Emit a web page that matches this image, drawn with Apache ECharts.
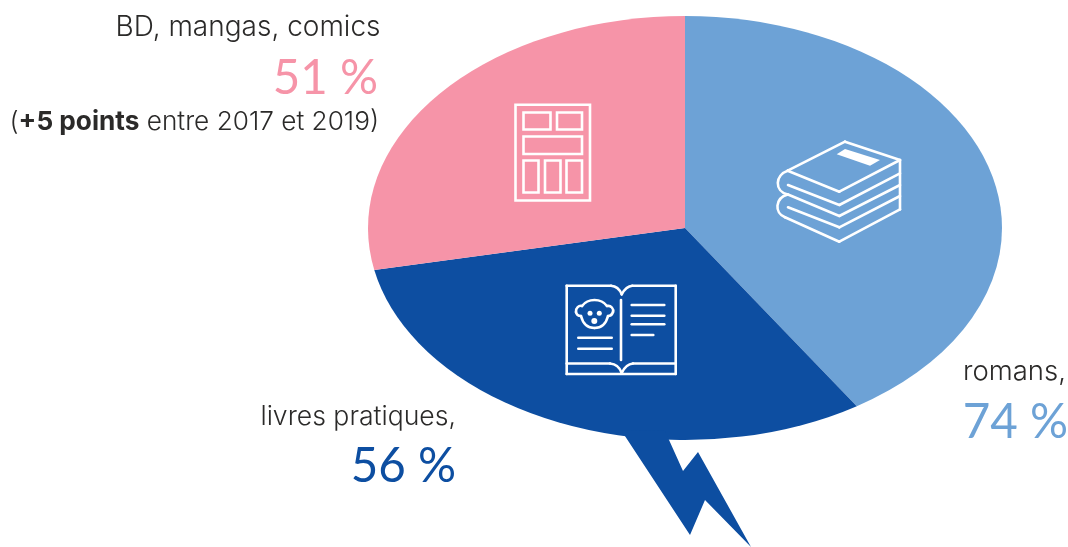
<!DOCTYPE html>
<html><head><meta charset="utf-8">
<style>html,body{margin:0;padding:0;background:#fff}#c{width:1068px;height:547px}</style>
<script src="https://cdn.jsdelivr.net/npm/echarts@6/dist/echarts.min.js"></script>
</head><body><div id="c"></div>
<script>
const categories = ['romans,', 'livres pratiques,', 'BD, mangas, comics'];
const values = [74, 56, 51];
const colors = ['#6DA2D6', '#0D4EA1', '#F694A8'];
const valueLabels = ['74 %', '56 %', '51 %'];
const FONT = 'Inter, Lato, sans-serif';
const NUMFONT = 'Lato, Inter, sans-serif';
const INK = '#2b2a29';
const total = values.reduce((a, b) => a + b, 0);

const chart = echarts.init(document.getElementById('c'), null, {renderer: 'canvas'});
const CX = 685, CY = 228, RX = 317, RY = 212;

function renderItem(params, api) {
  let before = 0;
  for (let i = 0; i < params.dataIndex; i++) before += values[i];
  const v = api.value(0);
  const a0 = -Math.PI / 2 + before / total * 2 * Math.PI;
  const a1 = a0 + v / total * 2 * Math.PI;
  return {
    type: 'sector', x: CX, y: CY, scaleX: 1, scaleY: RY / RX,
    shape: {cx: 0, cy: 0, r0: 0, r: RX, startAngle: a0, endAngle: a1, clockwise: true},
    style: {fill: colors[params.dataIndex]}
  };
}

const Z = 20;
const W = {stroke: '#fff', fill: null, lineWidth: 2.6, lineJoin: 'miter', lineCap: 'round'};
const rect = (x1, y1, x2, y2) => ({type: 'rect', z: Z, shape: {x: x1, y: y1, width: x2 - x1, height: y2 - y1}, style: W, silent: true});
const line = (x1, y1, x2, y2) => ({type: 'line', z: Z, shape: {x1, y1, x2, y2}, style: W, silent: true});
const dot = (cx, cy, r) => ({type: 'circle', z: Z, shape: {cx, cy, r}, style: {fill: '#fff'}, silent: true});
const poly = (pts, fill) => ({type: 'polygon', z: Z, shape: {points: pts}, style: {fill}, silent: true});
// Expands a small "M L C Z" outline into the library's own line and bezierCurve elements.
function path(d) {
  const t = d.match(/[MLCZ]|[\d.]+/g), out = [];
  let i = 0, x = 0, y = 0, sx = 0, sy = 0;
  const n = () => parseFloat(t[i++]);
  while (i < t.length) {
    const c = t[i++];
    if (c === 'M') { x = sx = n(); y = sy = n(); }
    else if (c === 'L') { const a = n(), b = n(); out.push(line(x, y, a, b)); x = a; y = b; }
    else if (c === 'C') {
      const a = n(), b = n(), e = n(), f = n(), g = n(), h = n();
      out.push({type: 'bezierCurve', z: Z, silent: true, style: W,
        shape: {x1: x, y1: y, cpx1: a, cpy1: b, cpx2: e, cpy2: f, x2: g, y2: h}});
      x = g; y = h;
    } else if (c === 'Z') { out.push(line(x, y, sx, sy)); x = sx; y = sy; }
  }
  return out;
}

const comic = [
  rect(515.5, 104.7, 590, 200.5), rect(523.5, 112.5, 550.5, 129.5), rect(557, 112.5, 582, 129.5),
  rect(523.5, 136.5, 582, 154), rect(523.5, 160.5, 538.5, 192.5), rect(545, 160.5, 560.5, 192.5), rect(566.5, 160.5, 582, 192.5)
];
const books = [
  poly([[845, 149], [880, 160], [870, 165.7], [836.7, 154.3]], '#fff'),
  ...path('M845 141.7 L900 160 L839.3 191.7 L787.7 170.7 Z'),
  line(900, 160, 900, 209.5),
  ...path('M788 185 L839.3 205 L900 173.3'),
  ...path('M788 194.5 L839.3 216 L900 185'),
  ...path('M788 207.3 L839.3 227.3 L900 196'),
  ...path('M787.7 170.7 C775 175 774 191 787.7 194.5 C775 198 774 213 785 217.3 L839.3 241.7 L900 209.3')
];
const baby = [
  ...path('M566.7 285.7 L611 285.7 C616 286 620 290 621.7 294.3 C624 290 628 286 632.3 285.7 L675.7 285.7 L675.7 374 L566.7 374 Z'),
  ...path('M566.7 363.5 L610 363.5 C616 364 620 368 621.7 373 C624 368 628 364 633 363.5 L675.7 363.5'),
  line(621, 300, 621, 360),
  line(631.7, 305, 664.3, 305), line(631.7, 315.7, 664.3, 315.7), line(631.7, 324.3, 664.3, 324.3), line(631.7, 335, 653.3, 335),
  line(578.3, 337.7, 611.7, 337.7), line(578.3, 348.7, 611.7, 348.7),
  ...path('M582 306 C588 298 601 298 607 306 C611 305 614 309 613 312 C612 315 610 316 608 316 C606 324 601 328 594.5 328 C588 328 583 324 581 316 C579 316 576.5 315 576 312 C575.5 308 579 305 582 306'),
  dot(590, 313.3, 2.5), dot(599.3, 313.3, 2.5), dot(594.3, 321, 3)
];
const bolt = poly([[621, 430], [690, 535], [705, 500], [751, 547], [698, 452], [683, 471], [665, 431]], colors[1]);

const txt = (right, y, text, size, color, weight, font) => ({
  type: 'text', z: Z, x: right, y,
  style: {text, align: 'right', verticalAlign: 'middle', font: `${weight || 400} ${size}px ${font || FONT}`, fill: color}, silent: true
});

chart.setOption({
  animation: false,
  series: [{type: 'custom', coordinateSystem: 'none', renderItem, data: values.map((v, i) => ({value: [v], name: categories[i]})), silent: true}],
  graphic: {elements: [
    bolt, ...comic, ...books, ...baby,
    txt(380.5, 28, categories[2], 28, INK, 300),
    txt(378, 79, valueLabels[2], 47.5, colors[2], 400, NUMFONT),
    {type: 'text', z: Z, x: 379, y: 122, silent: true, style: {
      align: 'right', verticalAlign: 'middle',
      text: '({b|+5 points} entre 2017 et 2019)',
      font: `300 26.2px ${FONT}`, fill: INK,
      rich: {b: {font: `700 26.2px ${FONT}`, fill: INK}}
    }},
    txt(456, 417, categories[1], 26.6, INK, 300),
    txt(456, 467, valueLabels[1], 47.5, colors[1], 400, NUMFONT),
    txt(1066, 372, categories[0], 27.5, INK, 300),
    txt(1068, 423, valueLabels[0], 47.5, colors[0], 400, NUMFONT)
  ]}
});
</script></body></html>
